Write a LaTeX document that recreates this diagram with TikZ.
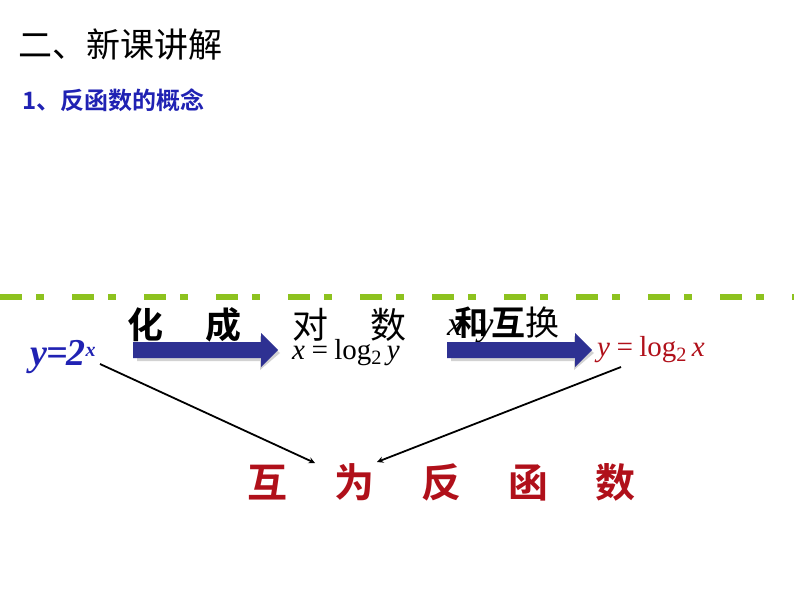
\documentclass[tikz,border=0pt]{standalone}
\usepackage{fontspec}
\setmainfont{Liberation Serif}
\newfontfamily\cjk{Noto Sans CJK SC}
\newfontfamily\cjkb{Noto Sans CJK SC Bold}
\definecolor{navy}{HTML}{2E3192}
\definecolor{lgreen}{HTML}{8DC21F}
\definecolor{dred}{HTML}{B0101A}
\tikzset{
 link/.style={-stealth, line width=1.8pt, black},
 fatarrow/.pic={
   \fill[gray!35] (4,-5) -- (127,-5) -- (127,-14) -- (147,3) -- (127,20) -- (127,11) -- (4,11) -- cycle;
   \fill[navy] (0,-8) -- (128,-8) -- (128,-17) -- (145,0) -- (128,17) -- (128,8) -- (0,8) -- cycle;
 },
}
\begin{document}
\begin{tikzpicture}[x=1pt,y=-1pt]
\useasboundingbox (0,0) rectangle (794,596);
\node[font=\cjk\fontsize{34}{34}\selectfont, anchor=west, inner sep=0] (title) at (18,45) {二、新课讲解};
\node[font=\cjkb\fontsize{24}{24}\selectfont, text=navy!70!blue, anchor=west, inner sep=0] (sub) at (22,100) {1、反函数的概念};
\draw[lgreen, line width=6pt, dash pattern=on 22pt off 14pt on 8pt off 28pt] (0,297) -- (794,297);
\node[font=\cjkb\fontsize{36}{36}\selectfont, anchor=west, inner sep=0] (t1) at (127,325) {化\hspace{42pt}成};
\node[font=\cjk\fontsize{36}{36}\selectfont, anchor=west, inner sep=0] (t2) at (292,325) {对\hspace{42pt}数};
\node[font=\fontsize{34}{34}\selectfont\itshape, anchor=west, inner sep=0] (t3) at (447,325) {x\kern-8pt{\cjkb 和}\kern-10pt y\kern-2pt{\cjkb 互}{\cjk 换}};
\pic (a1) at (133,350) {fatarrow};
\pic (a2) at (447,350) {fatarrow};
\node[text=navy!70!blue, font=\fontsize{38}{38}\selectfont\bfseries\itshape, anchor=west, inner sep=0] (f1) at (30,357) {y\kern-1pt=\kern-1pt 2\textsuperscript{\fontsize{20}{20}\selectfont x}};
\node[font=\fontsize{29}{29}\selectfont\itshape, anchor=west, inner sep=0] (f2) at (292,353) {x\,=\,\upshape log\textsubscript{2}\,\itshape y};
\node[text=dred, font=\fontsize{29}{29}\selectfont\itshape, anchor=west, inner sep=0] (f3) at (597,350) {y\,=\,\upshape log\textsubscript{2}\,\itshape x};
\node[text=dred, font=\cjkb\fontsize{40}{40}\selectfont, anchor=west, inner sep=0] (res) at (247,482) {互\hspace{47pt}为\hspace{47pt}反\hspace{47pt}函\hspace{47pt}数};
\coordinate (e1) at (315,463);
\coordinate (e2) at (377,462);
\draw[link] (100,364) -- (e1);
\draw[link] (621,367) -- (e2);
\end{tikzpicture}
\end{document}
